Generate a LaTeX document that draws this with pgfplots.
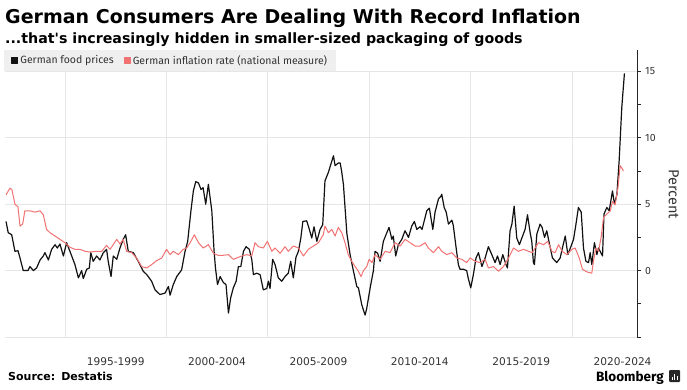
\documentclass[border=0pt]{standalone}
\usepackage{pgfplots}
\pgfplotsset{compat=1.18}
\usepackage{fontspec}
\setmainfont{Fira Sans}
\newfontfamily\djv{DejaVu Sans}
\definecolor{foodblack}{HTML}{111111}
\definecolor{inflred}{HTML}{F07272}
\definecolor{gridgray}{HTML}{E6E6E6}
\definecolor{legendgray}{HTML}{EFEFEF}
\definecolor{labelgray}{HTML}{333333}
\begin{document}
\begin{tikzpicture}
\useasboundingbox (0,0) rectangle (687pt,389pt);
\node[anchor=base west, inner sep=0pt, font=\djv\fontsize{19}{22}\bfseries\selectfont] at (5pt,365pt) {German Consumers Are Dealing With Record Inflation};
\node[anchor=base west, inner sep=0pt, font=\djv\fontsize{14.2}{16}\bfseries\selectfont] at (5pt,345pt) {...that's increasingly hidden in smaller-sized packaging of goods};
\begin{axis}[
  at={(5pt,52pt)}, anchor=south west,
  scale only axis, width=632pt, height=286.9pt,
  xmin=1992.04, xmax=2023.21, ymin=-5, ymax=16.6,
  axis y line*=right, axis x line*=bottom,
  x axis line style={draw=none},
  y axis line style={draw=black!85, line width=0.6pt},
  xtick={1997.5,2002.5,2007.5,2012.5,2017.5,2022.5},
  xticklabels={1995-1999,2000-2004,2005-2009,2010-2014,2015-2019,2020-2024},
  x tick style={draw=none},
  xticklabel style={anchor=base, yshift=-24pt, font=\djv\fontsize{10.6}{12}\selectfont, text=labelgray},
  ytick={-5,0,5,10,15}, yticklabels={,0,5,10,15},
  minor ytick={-2.5,2.5,7.5,12.5},
  tick align=outside, major tick length=4pt, minor tick length=4pt,
  y tick style={draw=black!85, line width=0.6pt},
  yticklabel style={anchor=west, inner sep=0pt, xshift=4pt, font=\fontsize{10.5}{12}\selectfont, text=labelgray},
  /pgf/number format/assume math mode=true,
  ymajorgrids, grid style={draw=gridgray, line width=0.6pt},
  ylabel={Percent},
  every axis y label/.style={at={(axis description cs:1.058,0.498)}, anchor=center, rotate=-90, font=\fontsize{14.5}{16}\selectfont, text=labelgray},
  legend style={at={(rel axis cs:0,1)}, anchor=north west, xshift=-1pt, fill=legendgray, draw=none,
    inner xsep=7pt, inner ysep=4pt, legend columns=2, font=\fontsize{10.5}{12}\selectfont, text=labelgray,
    /tikz/every even column/.append style={column sep=8pt}, nodes={inner xsep=2pt, inner ysep=1pt}},
  legend cell align=left,
]
\pgfplotsinvokeforeach{1995,2000,2005,2010,2015,2020}{
  \draw[gridgray, line width=0.6pt] (axis cs:#1,-5) -- (axis cs:#1,15);
}
\addplot[foodblack, line width=1.2pt, line join=round,
  legend image code/.code={\fill[foodblack] (0pt,-3pt) rectangle (6pt,3pt);}] table {
x y
1992.09 3.7
1992.20 2.85
1992.37 2.7
1992.53 1.45
1992.68 1.5
1992.78 0.95
1992.94 0
1993.17 0
1993.27 0.3
1993.44 0
1993.60 0.2
1993.77 0.8
1993.93 1.1
1994.01 1.35
1994.18 0.8
1994.34 1.6
1994.51 1.95
1994.62 1.7
1994.75 2.0
1994.92 1.1
1995.08 2.1
1995.33 1.1
1995.49 0.45
1995.66 -0.55
1995.82 0
1995.90 -0.6
1996.07 0.1
1996.20 0.2
1996.27 1.35
1996.39 0.7
1996.56 1.1
1996.72 0.8
1996.89 1.35
1997.05 1.6
1997.13 0.7
1997.27 -0.45
1997.38 1.1
1997.55 0.85
1997.71 1.7
1997.87 2.35
1997.99 2.7
1998.12 1.45
1998.37 1.35
1998.61 0.7
1998.86 -0.05
1999.03 -0.3
1999.27 -0.8
1999.44 -1.45
1999.68 -1.8
1999.93 -1.7
2000.10 -1.2
2000.18 -1.85
2000.34 -1.05
2000.51 -0.45
2000.75 0.05
2000.92 1.45
2001.05 2.2
2001.21 4.5
2001.33 6.0
2001.45 6.7
2001.58 6.6
2001.71 6.1
2001.81 6.25
2001.94 5.0
2002.07 6.5
2002.24 4.5
2002.35 1.5
2002.42 0.2
2002.52 -1.05
2002.65 -0.45
2002.81 -0.9
2002.94 -1.05
2003.06 -3.2
2003.17 -2.05
2003.30 -1.3
2003.44 -0.8
2003.55 0.3
2003.67 0.3
2003.80 1.45
2003.93 1.8
2004.09 1.6
2004.21 0.85
2004.29 -0.3
2004.45 -0.2
2004.62 -0.3
2004.78 -1.45
2004.95 -1.35
2005.03 -0.8
2005.11 -1.35
2005.24 0.85
2005.36 0.45
2005.52 -0.55
2005.69 -0.8
2005.85 -0.45
2006.01 -0.2
2006.13 0.7
2006.26 -0.55
2006.39 1.0
2006.51 1.45
2006.63 2.45
2006.73 3.7
2006.92 3.75
2007.05 3.1
2007.17 2.45
2007.28 3.3
2007.42 2.2
2007.58 3.1
2007.71 3.45
2007.82 6.75
2007.99 7.4
2008.07 7.8
2008.24 8.65
2008.32 7.9
2008.48 8.1
2008.57 8.1
2008.64 7.5
2008.73 6.5
2008.90 2.8
2009.06 1.2
2009.22 0
2009.39 -1.2
2009.47 -1.3
2009.64 -2.6
2009.80 -3.35
2009.88 -2.85
2010.05 -1.3
2010.21 0
2010.29 1.45
2010.42 1.3
2010.54 0.7
2010.70 2.2
2010.87 2.85
2010.98 3.25
2011.12 2.35
2011.19 2.6
2011.31 1.1
2011.44 1.95
2011.61 2.35
2011.77 3.0
2011.94 2.5
2012.10 3.35
2012.23 3.7
2012.35 3.1
2012.51 3.3
2012.61 3.1
2012.84 4.5
2012.97 4.7
2013.14 3.1
2013.25 4.4
2013.42 5.4
2013.54 5.6
2013.58 5.75
2013.70 4.75
2013.80 4.4
2013.91 3.5
2014.08 3.8
2014.15 3.4
2014.29 1.7
2014.40 0.45
2014.48 0.1
2014.65 0.1
2014.81 0
2014.89 -0.6
2015.01 -1.3
2015.14 -0.3
2015.27 0.95
2015.39 1.35
2015.56 0.3
2015.72 0.95
2015.88 1.8
2016.05 1.2
2016.21 0.6
2016.33 1.1
2016.46 0.45
2016.59 1.2
2016.75 0.45
2016.82 0.2
2016.95 3.0
2017.04 3.5
2017.15 4.85
2017.28 2.45
2017.41 1.95
2017.53 2.45
2017.69 3.1
2017.81 4.2
2017.94 2.85
2018.02 2.2
2018.10 0.6
2018.15 0.45
2018.27 2.75
2018.43 3.5
2018.53 3.25
2018.65 2.5
2018.76 3.0
2018.88 2.1
2019.04 0.95
2019.25 0.6
2019.42 0.95
2019.53 1.7
2019.67 2.6
2019.80 1.2
2019.96 1.85
2020.08 2.35
2020.20 3.5
2020.32 4.75
2020.46 4.4
2020.57 1.7
2020.69 0.7
2020.82 0.6
2020.90 1.35
2020.98 0.45
2021.11 2.1
2021.23 1.2
2021.31 1.7
2021.51 1.1
2021.58 4.25
2021.72 4.75
2021.84 4.5
2022.00 6.0
2022.10 5.0
2022.22 5.75
2022.33 8.3
2022.46 12.3
2022.59 14.85
};
\addlegendentry{German food prices}
\addplot[inflred, line width=1.0pt, line join=round,
  legend image code/.code={\fill[inflred] (0pt,-3pt) rectangle (6pt,3pt);}] table {
x y
1992.09 5.7
1992.28 6.2
1992.38 6.1
1992.53 5.0
1992.68 4.8
1992.78 3.35
1992.91 3.5
1993.02 4.5
1993.27 4.5
1993.52 4.4
1993.77 4.5
1993.93 4.2
1994.09 3.1
1994.26 2.85
1994.51 2.6
1994.75 2.35
1995.00 2.1
1995.25 1.75
1995.49 1.6
1995.74 1.6
1995.99 1.45
1996.23 1.4
1996.56 1.45
1996.81 1.45
1997.05 1.9
1997.22 1.6
1997.55 2.35
1997.71 2.0
1997.87 2.35
1998.04 1.45
1998.29 1.35
1998.53 0.95
1998.78 0.3
1999.03 0.2
1999.27 0.45
1999.52 0.75
1999.77 0.95
2000.01 1.6
2000.18 1.2
2000.34 1.45
2000.59 1.2
2000.83 1.6
2001.00 1.7
2001.17 2.1
2001.38 2.7
2001.58 2.1
2001.82 1.7
2002.07 1.95
2002.32 1.3
2002.55 1.15
2002.79 1.15
2003.06 1.2
2003.30 0.85
2003.47 0.95
2003.72 1.1
2003.96 1.2
2004.21 1.1
2004.37 2.1
2004.54 1.8
2004.78 1.7
2004.98 2.2
2005.20 1.45
2005.36 1.7
2005.61 1.3
2005.85 1.8
2006.01 1.45
2006.26 1.85
2006.51 1.7
2006.76 1.1
2007.00 1.6
2007.25 1.85
2007.50 2.1
2007.74 2.7
2007.82 3.35
2007.99 2.85
2008.16 3.1
2008.32 2.6
2008.48 3.25
2008.65 2.85
2008.81 2.1
2008.97 1.2
2009.14 0.7
2009.31 0.3
2009.47 -0.05
2009.60 -0.45
2009.72 0
2009.88 0.3
2010.00 0.85
2010.14 0.6
2010.29 1.2
2010.54 0.85
2010.79 1.45
2011.03 1.35
2011.28 2.1
2011.53 1.85
2011.77 2.35
2012.02 2.1
2012.26 1.85
2012.51 1.85
2012.76 2.1
2012.92 1.7
2013.17 1.35
2013.42 1.8
2013.58 1.45
2013.83 1.2
2014.08 1.35
2014.32 0.95
2014.57 0.85
2014.81 0.6
2014.98 0.95
2015.23 0.7
2015.47 0.6
2015.72 0.85
2015.88 0.2
2016.13 0.3
2016.38 -0.05
2016.62 0.3
2016.87 0.95
2017.12 1.7
2017.36 1.45
2017.61 1.6
2017.86 1.45
2018.04 1.35
2018.35 2.1
2018.60 1.95
2018.81 2.2
2019.01 1.45
2019.17 1.35
2019.34 1.95
2019.52 1.45
2019.75 1.2
2020.00 1.6
2020.16 1.7
2020.36 0.95
2020.52 0.1
2020.74 -0.1
2020.98 -0.2
2021.06 0.7
2021.18 1.7
2021.31 1.45
2021.44 2.5
2021.56 4.0
2021.72 4.25
2021.89 4.5
2022.00 5.2
2022.13 4.95
2022.27 6.25
2022.38 7.9
2022.49 7.65
2022.54 7.5
};
\addlegendentry{German inflation rate (national measure)}
\end{axis}
\node[anchor=base west, inner sep=0pt, font=\djv\fontsize{11}{13}\bfseries\selectfont] at (8pt,9pt) {Source:\hspace{6pt}Destatis};
\node[anchor=base east, inner sep=0pt, font=\fontsize{13.5}{16}\bfseries\selectfont] at (664pt,8pt) {Bloomberg};
\fill[black!85, rounded corners=1pt] (669pt,7pt) rectangle (680pt,19pt);
\fill[white] (671.5pt,9pt) rectangle (672.8pt,12pt);
\fill[white] (674pt,9pt) rectangle (675.3pt,15pt);
\fill[white] (676.5pt,9pt) rectangle (677.8pt,13.5pt);
\end{tikzpicture}
\end{document}
